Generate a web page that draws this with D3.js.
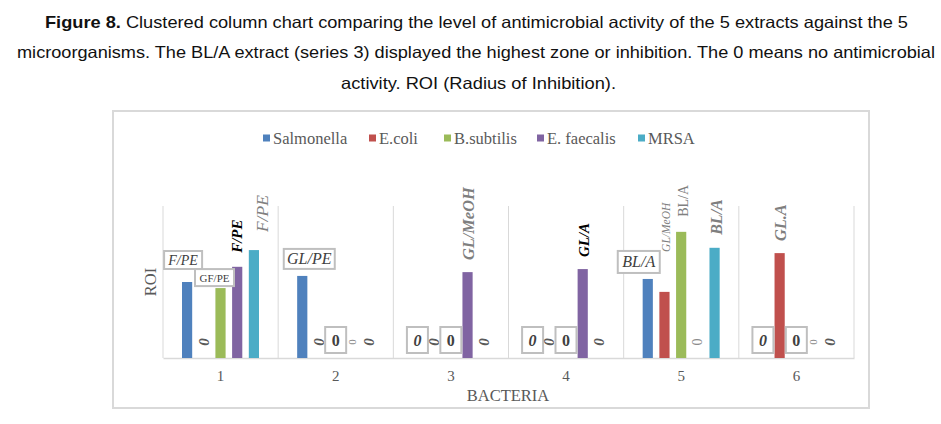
<!DOCTYPE html>
<html><head><meta charset="utf-8">
<script src="https://cdn.jsdelivr.net/npm/d3@7"></script>
<style>body{margin:0;background:#fff}svg{display:block}</style>
</head><body>
<svg id="c" width="941" height="424"></svg>
<script>
// ---- data ----
const categories = ["1","2","3","4","5","6"];
const seriesNames = ["Salmonella","E.coli","B.subtilis","E. faecalis","MRSA"];
const salmonella = [10.0, 10.8, 0, 0, 10.4, 0];
const ecoli      = [0, 0, 0, 0, 8.7, 13.8];
const bsubtilis  = [9.2, 0, 0, 0, 16.6, 0];
const efaecalis  = [12.0, 0, 11.3, 11.7, 0, 0];
const mrsa       = [14.2, 0, 0, 0, 14.5, 0];
const salmonellaLabels = ["F/PE","GL/PE","0","0","BL/A","0"];
const ecoliLabels      = ["0","0","0","0","GL/MeOH","GL.A"];
const bsubtilisLabels  = ["GF/PE","0","0","0","BL/A","0"];
const efaecalisLabels  = ["F/PE","0","GL/MeOH","GL/A","0","0"];
const mrsaLabels       = ["F/PE","0","0","0","BL/A","0"];
const titleLines = [
  ["Figure 8.", " Clustered column chart comparing the level of antimicrobial activity of the 5 extracts against the 5"],
  ["", "microorganisms. The BL/A extract (series 3) displayed the highest zone or inhibition. The 0 means no antimicrobial"],
  ["", "activity. ROI (Radius of Inhibition)."]
];
const xTitle = "BACTERIA", yTitle = "ROI";

// ---- styling ----
const colors = ["#4F81BD","#C0504D","#9BBB59","#8064A2","#4BACC6"];
const values = [salmonella, ecoli, bsubtilis, efaecalis, mrsa];
const labels = [salmonellaLabels, ecoliLabels, bsubtilisLabels, efaecalisLabels, mrsaLabels];
const serif = "'Liberation Serif','Times New Roman',serif";

const svg = d3.select("#c");

// title
const titleSpec = [{y:28, x0:45, x1:908},{y:58, x0:17, x1:935},{y:89, x0:341, x1:616}];
titleLines.forEach((ln,i)=>{
  const s = titleSpec[i];
  const t = svg.append("text").attr("x", s.x0).attr("y", s.y)
    .attr("font-family","'Liberation Sans',Arial,sans-serif").attr("font-size",16.5).attr("fill","#111")
    .attr("textLength", s.x1 - s.x0).attr("lengthAdjust","spacingAndGlyphs");
  if (ln[0]) t.append("tspan").attr("font-weight","bold").text(ln[0]);
  t.append("tspan").text(ln[1]);
});

// frame
svg.append("rect").attr("x",113).attr("y",111).attr("width",756).attr("height",297)
  .attr("fill","none").attr("stroke","#d9d9d9").attr("stroke-width",2);

// scales
const x0 = d3.scaleBand().domain(categories).range([163, 854]).padding(0);
const x1 = d3.scaleBand().domain(seriesNames).range([19, 96]).paddingInner(0.39).paddingOuter(0);
const y = d3.scaleLinear().domain([0, 20]).range([358, 206]);

// gridlines (category separators)
const seps = categories.map(c => x0(c)).concat([x0.range()[1]]);
svg.append("g").selectAll("line").data(seps).join("line")
  .attr("x1", d=>d).attr("x2", d=>d).attr("y1", y(20)).attr("y2", y(0))
  .attr("stroke","#d9d9d9").attr("stroke-width",1);

// x axis
const xAxis = d3.axisBottom(x0).tickSize(0).tickPadding(12);
const gx = svg.append("g").attr("transform",`translate(0,${y(0)})`).call(xAxis);
gx.select(".domain").attr("stroke","#d9d9d9").attr("stroke-width",1.5);
gx.selectAll("text").attr("font-family",serif).attr("font-size",15).attr("fill","#595959");

// axis titles
svg.append("text").attr("x", 508).attr("y", 401).attr("text-anchor","middle")
  .attr("font-family",serif).attr("font-size",16.5).attr("fill","#595959").text(xTitle);
svg.append("text").attr("transform","translate(156,282) rotate(-90)").attr("text-anchor","middle")
  .attr("font-family",serif).attr("font-size",16.5).attr("fill","#595959").text(yTitle);

// bars
const flat = [];
categories.forEach((c,ci)=> seriesNames.forEach((s,si)=> flat.push({c, ci, s, si, v: values[si][ci], lab: labels[si][ci]})));
svg.append("g").selectAll("rect").data(flat.filter(d=>d.v>0)).join("rect")
  .attr("x", d=> x0(d.c) + x1(d.s)).attr("width", x1.bandwidth())
  .attr("y", d=> y(d.v)).attr("height", d=> y(0) - y(d.v))
  .attr("fill", d=> colors[d.si]);

// label formats (style only)
const fmt = {
  "0,0": {kind:"box", italic:true, size:14, w:38, h:18, dx:-4, gap:13},
  "0,1": {kind:"box", italic:true, size:16, w:51, h:20, dx:7, gap:7},
  "0,4": {kind:"box", italic:true, size:16, w:42, h:22, dx:-9, gap:6},
  "2,0": {kind:"box", italic:false, size:11, w:39, h:17, dx:-6, gap:2},
  "3,0": {kind:"rot", italic:true, bold:true, size:15, fill:"#000", gap:14, dx:0},
  "4,0": {kind:"rot", italic:true, bold:false, size:17.5, fill:"#7f7f7f", gap:18, dx:8},
  "3,2": {kind:"rot", italic:true, bold:true, size:16.4, fill:"#7f7f7f", gap:12, dx:1},
  "3,3": {kind:"rot", italic:true, bold:true, size:15, fill:"#000", gap:12, dx:1},
  "1,4": {kind:"rot", italic:true, bold:false, size:11.5, fill:"#808080", gap:40, dx:2},
  "2,4": {kind:"rot", italic:false, bold:false, size:14, fill:"#808080", gap:15, dx:2},
  "4,4": {kind:"rot", italic:true, bold:true, size:16, fill:"#7f7f7f", gap:13, dx:2},
  "1,5": {kind:"rot", italic:true, bold:true, size:16.4, fill:"#7f7f7f", gap:12, dx:1},
  "3,4": {kind:"zero", italic:false, bold:false, size:14, fill:"#8c8c8c"}
};
function getFmt(d){
  const k = d.si + "," + d.ci;
  if (fmt[k]) return fmt[k];
  if (d.si === 0) return {kind:"zbox", italic:true, bold:true};
  if (d.si === 2) return {kind:"zbox", italic:false, bold:true};
  if (d.si === 3) return {kind:"zero", italic:false, bold:false, size:11, fill:"#8c8c8c"};
  return {kind:"zero", italic:true, bold:true, size:15, fill:"#595959"};
}

const lg = svg.append("g");
flat.forEach(d=>{
  const f = getFmt(d);
  const cx = x0(d.c) + x1(d.s) + x1.bandwidth()/2;
  if (f.kind === "box" || f.kind === "zbox") {
    let w, h, bx, by, size;
    if (f.kind === "box") {
      w = f.w; h = f.h; bx = cx + f.dx - w/2; by = y(d.v) - f.gap - h; size = f.size;
    } else {
      w = 21; h = 26; bx = cx - w/2; by = y(0) - 31; size = 16;
    }
    lg.append("rect").attr("x",bx).attr("y",by).attr("width",w).attr("height",h)
      .attr("fill","#fff").attr("stroke","#bfbfbf").attr("stroke-width",2);
    lg.append("text").attr("x", bx + w/2).attr("y", by + h/2).attr("text-anchor","middle")
      .attr("dominant-baseline","central")
      .attr("font-family",serif).attr("font-size",size)
      .attr("font-style", f.italic ? "italic":"normal").attr("font-weight", f.bold ? "bold":"normal")
      .attr("fill","#404040").text(d.lab);
  } else if (f.kind === "rot") {
    const ty = y(d.v) - f.gap;
    lg.append("text").attr("transform",`translate(${cx + f.dx},${ty}) rotate(-90)`)
      .attr("text-anchor","start").attr("dominant-baseline","central")
      .attr("font-family",serif).attr("font-size",f.size)
      .attr("font-style", f.italic ? "italic":"normal").attr("font-weight", f.bold ? "bold":"normal")
      .attr("fill", f.fill).text(d.lab);
  } else {
    lg.append("text").attr("transform",`translate(${cx},${y(0) - 16}) rotate(-90)`)
      .attr("text-anchor","middle").attr("dominant-baseline","central")
      .attr("font-family",serif).attr("font-size",f.size)
      .attr("font-style", f.italic ? "italic":"normal").attr("font-weight", f.bold ? "bold":"normal")
      .attr("fill", f.fill).text(d.lab);
  }
});

// legend
const legendX = [263, 369, 444, 537, 638];
const leg = svg.append("g");
seriesNames.forEach((s,i)=>{
  const g = leg.append("g").attr("transform",`translate(${legendX[i]},138)`);
  g.append("rect").attr("x",0).attr("y",-3.5).attr("width",7).attr("height",7).attr("fill",colors[i]);
  g.append("text").attr("x",10).attr("y",0).attr("dominant-baseline","central")
    .attr("font-family",serif).attr("font-size",16.5).attr("fill","#595959").text(s);
});
</script>
</body></html>
